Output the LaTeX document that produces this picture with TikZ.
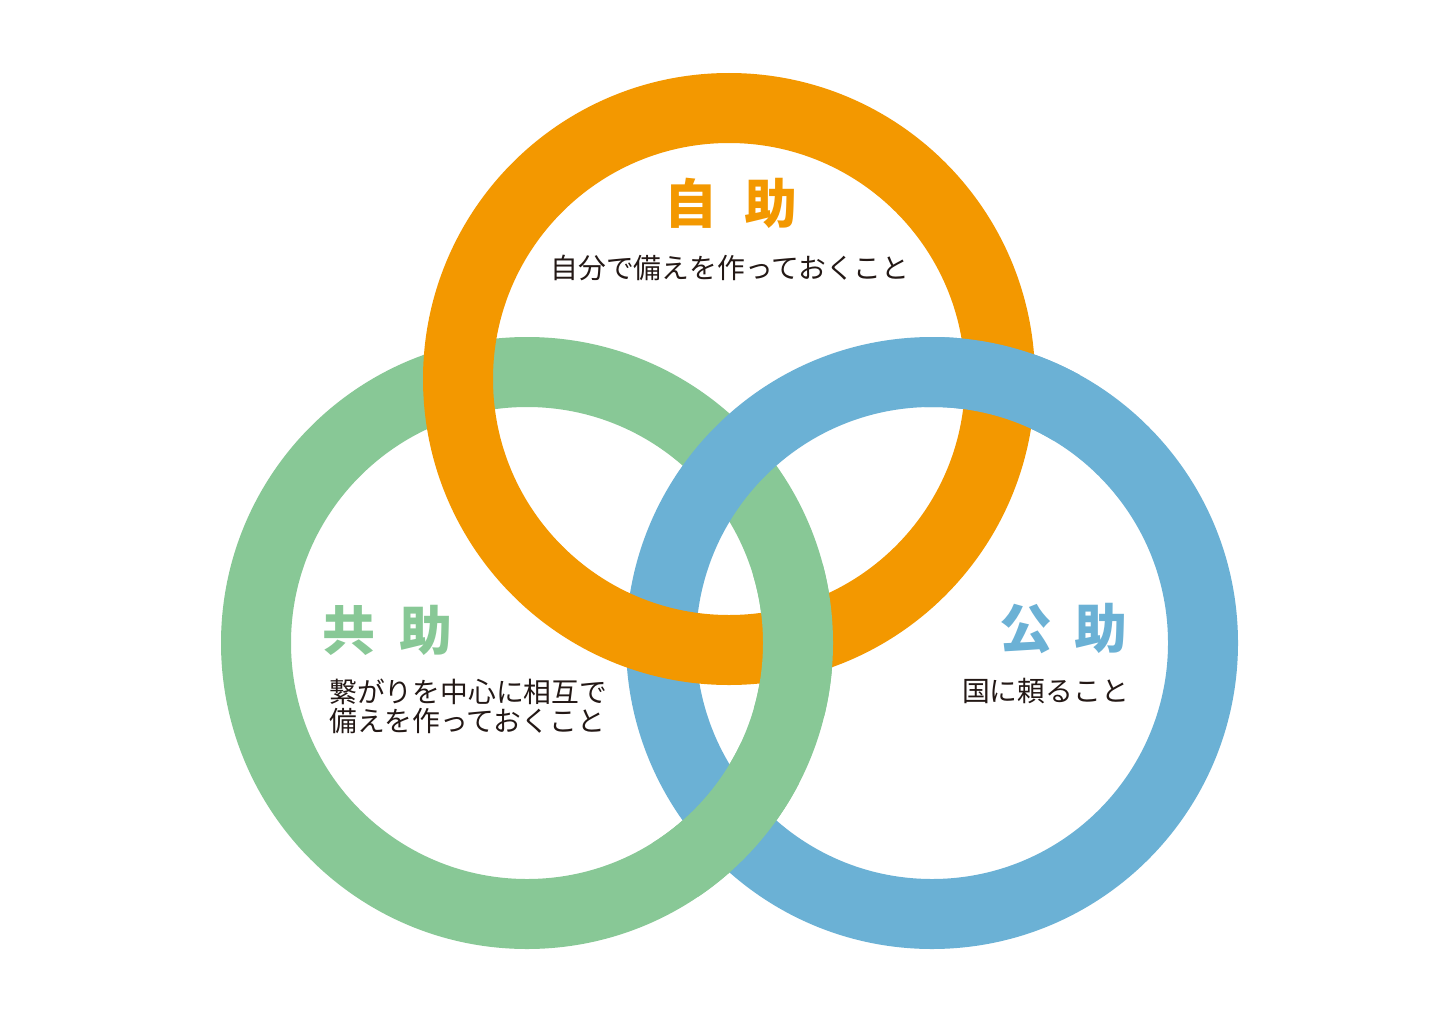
\documentclass[tikz,border=0pt]{standalone}
\usepackage{fontspec}
\newfontfamily\cjk{Noto Sans CJK JP}
\definecolor{ringorange}{HTML}{F39800}
\definecolor{ringgreen}{HTML}{88C896}
\definecolor{ringblue}{HTML}{6BB1D5}
\definecolor{bodytext}{HTML}{231815}
\tikzset{
  ring/.style={line width=70pt},
  title/.style={inner sep=0pt, font=\cjk\bfseries\fontsize{53}{60}\selectfont},
  body/.style={inner sep=0pt, text=bodytext, font=\cjk\fontsize{27.8}{30}\selectfont}
}
\begin{document}
\begin{tikzpicture}[x=1pt,y=-1pt]
\useasboundingbox[fill=white] (0,0) rectangle (1450,1025);
% centers
\coordinate (co) at (729,379);
\coordinate (cg) at (527,643);
\coordinate (cb) at (932,643);
% base rings: green, blue, orange
\draw[ring, ringgreen] (cg) circle (271pt);
\draw[ring, ringblue] (cb) circle (271pt);
\draw[ring, ringorange] (co) circle (271pt);
% interlocking fixes
\begin{scope}
  \clip (798,641) circle (80pt);
  \draw[ring, ringgreen] (cg) circle (271pt);
\end{scope}
\begin{scope}
  \clip (1000,381) circle (80pt);
  \draw[ring, ringblue] (cb) circle (271pt);
\end{scope}
\begin{scope}
  \clip (729.5,823) circle (80pt);
  \draw[ring, ringgreen] (cg) circle (271pt);
\end{scope}
% titles
\node[title, text=ringorange] (tjijo) at (731,203) {自\hspace{28pt}助};
\node[title, text=ringgreen, anchor=west] (tkyojo) at (322,630) {共\hspace{24pt}助};
\node[title, text=ringblue, anchor=east] (tkojo) at (1128,629) {公\hspace{22pt}助};
% bodies
\node[body] (bjijo) at (730,268) {自分で備えを作っておくこと};
\node[body, anchor=west] (bkyojo1) at (329,692) {繋がりを中心に相互で};
\node[body, anchor=west] (bkyojo2) at (329,721) {備えを作っておくこと};
\node[body, anchor=east] (bkojo) at (1129,691) {国に頼ること};
\end{tikzpicture}
\end{document}
